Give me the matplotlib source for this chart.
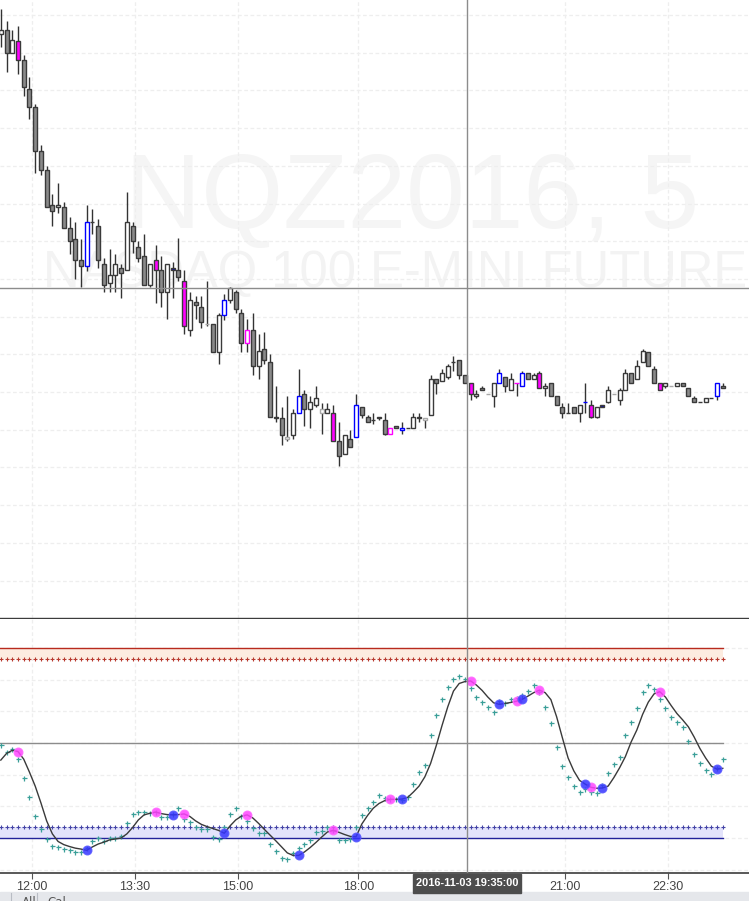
import matplotlib
matplotlib.use("Agg")
import matplotlib.pyplot as plt
import numpy as np
from matplotlib.patches import Rectangle

# ---------------- data ----------------
opens = [4757.5, 4758.0, 4755.0, 4756.5, 4754.0, 4750.25, 4747.75, 4742.0, 4739.5, 4734.75,
         4734.5, 4734.5, 4731.75, 4730.25, 4727.5, 4726.75, 4732.5, 4732.0, 4727.0, 4724.5,
         4725.5, 4726.5, 4726.25, 4732.0, 4729.25, 4728.0, 4724.25, 4727.5, 4726.25, 4723.25,
         4726.5, 4726.25, 4724.75, 4718.25, 4722.0, 4721.25, 4719.0, 4719.0, 4715.25, 4720.25,
         4722.25, 4723.25, 4720.5, 4716.5, 4718.25, 4713.5, 4715.75, 4714.0, 4706.75, 4706.5,
         4703.75, 4704.25, 4707.25, 4709.75, 4707.75, 4708.25, 4707.25, 4707.25, 4707.25, 4703.5,
         4701.75, 4703.75, 4704.0, 4708.0, 4706.75, 4706.25, 4706.5, 4706.25, 4704.5, 4705.5,
         4705.0, 4705.25, 4705.25, 4706.5, 4706.25, 4707.0, 4711.75, 4711.5, 4712.0, 4714.0,
         4714.25, 4712.25, 4711.25, 4709.5, 4710.5, 4709.75, 4709.5, 4711.25, 4712.0, 4710.25,
         4711.25, 4710.75, 4712.5, 4711.75, 4712.5, 4710.5, 4711.25, 4709.5, 4708.0, 4707.25,
         4708.0, 4707.25, 4708.75, 4708.25, 4706.75, 4708.25, 4708.75, 4709.75, 4709.0, 4710.25,
         4712.5, 4711.75, 4714.0, 4715.25, 4713.0, 4711.25, 4710.75, 4710.75, 4710.75, 4711.25,
         4710.5, 4709.25, 4708.75, 4708.75, 4709.25, 4709.5, 4710.75]
highs = [4760.75, 4759.25, 4758.0, 4758.5, 4754.75, 4751.75, 4748.25, 4742.75, 4740.0, 4736.25,
         4737.75, 4735.25, 4733.25, 4732.5, 4730.25, 4734.75, 4734.25, 4733.0, 4727.75, 4729.0,
         4728.25, 4727.0, 4736.5, 4732.5, 4730.0, 4731.0, 4727.0, 4729.5, 4728.0, 4727.0,
         4727.25, 4730.5, 4726.25, 4723.25, 4722.75, 4722.75, 4724.75, 4719.0, 4720.5, 4723.0,
         4724.0, 4723.5, 4721.0, 4719.75, 4720.5, 4717.75, 4718.0, 4715.0, 4710.75, 4708.0,
         4709.5, 4707.75, 4713.0, 4710.25, 4709.5, 4710.75, 4708.5, 4708.5, 4708.25, 4706.0,
         4704.25, 4705.0, 4709.75, 4708.0, 4707.0, 4707.25, 4706.75, 4707.25, 4705.25, 4705.5,
         4706.0, 4705.25, 4707.25, 4707.25, 4706.5, 4712.25, 4711.75, 4713.0, 4713.75, 4714.75,
         4714.25, 4712.25, 4711.25, 4710.25, 4710.75, 4709.75, 4711.25, 4713.0, 4712.0, 4712.5,
         4711.25, 4712.75, 4712.5, 4712.5, 4712.75, 4711.25, 4711.25, 4709.5, 4708.5, 4708.5,
         4708.0, 4708.25, 4711.25, 4709.0, 4708.0, 4708.25, 4710.75, 4709.75, 4710.5, 4713.0,
         4712.5, 4714.25, 4715.75, 4715.25, 4713.5, 4711.25, 4711.25, 4710.75, 4711.25, 4711.25,
         4710.5, 4709.5, 4708.75, 4709.25, 4709.25, 4711.25, 4711.25]
lows = [4755.75, 4752.5, 4755.0, 4752.25, 4749.25, 4746.25, 4739.0, 4738.75, 4734.5, 4732.0,
        4733.75, 4731.75, 4728.25, 4725.0, 4724.0, 4726.0, 4731.0, 4726.5, 4723.25, 4723.25,
        4723.25, 4722.5, 4726.25, 4728.5, 4727.25, 4724.25, 4724.0, 4721.75, 4721.25, 4719.75,
        4722.5, 4724.75, 4717.75, 4717.5, 4719.75, 4718.5, 4718.75, 4715.25, 4713.75, 4719.5,
        4721.75, 4720.5, 4715.25, 4715.25, 4712.25, 4711.75, 4713.75, 4706.75, 4706.0, 4703.0,
        4703.5, 4703.75, 4707.25, 4705.5, 4705.25, 4708.0, 4704.5, 4707.25, 4703.5, 4700.25,
        4701.75, 4702.75, 4704.0, 4706.5, 4706.0, 4705.75, 4706.25, 4704.25, 4704.5, 4705.25,
        4704.5, 4705.25, 4705.25, 4706.0, 4705.25, 4707.0, 4709.75, 4711.5, 4711.75, 4712.75,
        4711.75, 4711.25, 4709.0, 4709.25, 4710.25, 4709.75, 4708.0, 4711.25, 4710.0, 4710.25,
        4709.5, 4710.75, 4711.75, 4711.75, 4710.5, 4709.5, 4709.5, 4708.25, 4706.5, 4707.25,
        4707.25, 4706.0, 4707.25, 4706.5, 4706.5, 4708.0, 4708.5, 4709.75, 4708.25, 4710.25,
        4711.25, 4711.75, 4714.0, 4713.5, 4711.25, 4710.25, 4710.5, 4710.75, 4710.75, 4710.75,
        4709.5, 4708.75, 4708.75, 4708.75, 4709.25, 4709.0, 4710.5]
closes = [4758.0, 4755.0, 4756.75, 4754.0, 4750.5, 4747.75, 4742.0, 4739.5, 4734.5, 4734.0,
          4734.75, 4731.75, 4730.0, 4727.5, 4726.75, 4732.5, 4732.5, 4727.5, 4724.25, 4725.5,
          4727.0, 4725.75, 4732.5, 4730.0, 4727.75, 4724.25, 4727.0, 4726.25, 4723.25, 4727.0,
          4726.25, 4725.25, 4718.75, 4722.25, 4721.5, 4719.25, 4719.0, 4715.25, 4720.25, 4722.25,
          4723.75, 4721.0, 4716.5, 4718.25, 4713.5, 4715.5, 4714.25, 4706.75, 4706.5, 4704.25,
          4704.0, 4707.25, 4709.5, 4707.75, 4708.75, 4709.25, 4707.75, 4707.75, 4703.5, 4701.5,
          4704.25, 4702.75, 4708.25, 4707.0, 4706.0, 4706.25, 4706.75, 4704.5, 4705.25, 4705.25,
          4705.25, 4705.25, 4706.75, 4706.75, 4706.5, 4711.75, 4711.25, 4712.5, 4713.5, 4714.0,
          4712.25, 4711.25, 4709.75, 4709.75, 4710.25, 4709.75, 4711.25, 4712.5, 4710.75, 4711.75,
          4711.25, 4712.5, 4711.75, 4712.25, 4710.5, 4710.75, 4709.5, 4708.25, 4707.25, 4707.25,
          4707.25, 4708.25, 4708.75, 4706.75, 4708.0, 4708.0, 4710.25, 4709.75, 4710.25, 4712.5,
          4711.25, 4713.5, 4715.5, 4713.5, 4711.25, 4710.25, 4711.25, 4710.75, 4711.25, 4710.75,
          4709.5, 4708.75, 4708.75, 4709.25, 4709.25, 4711.25, 4710.5]

# signal bars (bar indices)
sell_bars = [3, 27, 32, 43, 58, 68, 82, 90, 94, 103, 115]
buy_bars = [15, 30, 39, 52, 62, 70, 87, 91, 102, 105, 125]
flat_bars = [36, 50, 56, 74, 85, 107, 117]

# oscillator (black line) and trigger (teal crosses)
oscillator = [44.6, 46.7, 47.7, 47.3, 44.9, 40.8, 36.4, 31.1, 25.4, 21.3,
              18.9, 17.9, 17.3, 16.8, 16.5, 16.1, 17.2, 18.1, 18.7, 19.4,
              19.7, 20.0, 21.3, 23.3, 25.7, 27.3, 27.8, 28.2, 27.7, 27.4,
              27.3, 27.4, 27.6, 26.8, 25.4, 24.3, 23.6, 23.0, 22.4, 21.5,
              23.8, 25.7, 26.9, 27.3, 26.3, 24.6, 22.7, 20.9, 19.1, 17.2,
              15.3, 14.5, 14.5, 15.6, 17.0, 18.6, 20.3, 21.9, 22.4, 21.8,
              21.1, 20.5, 20.4, 24.4, 27.1, 29.4, 30.9, 31.8, 32.2, 32.2,
              32.3, 32.8, 34.5, 36.4, 39.3, 43.5, 49.2, 55.5, 61.4, 66.4,
              68.8, 69.4, 69.6, 68.3, 66.6, 64.5, 62.7, 62.2, 62.5, 62.8,
              63.2, 63.8, 64.8, 65.9, 66.7, 65.9, 63.7, 58.3, 51.7, 45.3,
              41.2, 38.2, 37.0, 36.0, 35.7, 35.8, 36.4, 39.1, 42.2, 45.7,
              50.3, 54.1, 59.0, 62.9, 65.5, 66.2, 64.5, 61.8, 59.3, 57.3,
              55.1, 51.9, 48.3, 45.3, 42.7, 41.7, 42.0]
trigger = [49.4, 47.3, 48.1, 44.9, 38.9, 32.9, 26.9, 22.7, 19.6, 17.5,
           17.1, 16.5, 16.2, 15.5, 15.5, 16.7, 19.1, 19.9, 19.1, 19.9,
           20.1, 20.6, 24.6, 27.5, 28.1, 28.1, 28.0, 28.1, 26.5, 26.5,
           27.6, 29.6, 25.9, 24.9, 23.6, 22.8, 22.7, 20.2, 19.8, 23.5,
           27.5, 29.4, 26.9, 25.3, 23.2, 21.5, 21.5, 18.0, 15.9, 13.8,
           13.5, 15.3, 16.7, 18.0, 19.4, 21.9, 22.2, 23.4, 22.5, 19.4,
           19.4, 19.7, 23.6, 27.3, 29.4, 31.3, 33.6, 32.6, 32.3, 32.2,
           32.0, 33.0, 36.9, 40.7, 43.0, 52.5, 58.8, 63.8, 67.6, 70.1,
           71.2, 70.1, 67.3, 64.4, 63.0, 61.5, 59.9, 63.4, 62.7, 63.8,
           64.2, 65.2, 66.5, 68.3, 66.0, 61.3, 56.2, 48.8, 42.8, 39.2,
           36.5, 34.6, 35.5, 34.5, 34.1, 36.7, 40.4, 43.3, 45.7, 52.4,
           56.7, 61.1, 66.2, 68.2, 67.0, 63.8, 61.0, 58.1, 56.5, 55.0,
           50.7, 46.4, 43.6, 41.5, 40.1, 42.1, 44.9]

overbought = 80.0
overbought_inner = 76.5
midline = 50.0
oversold_inner = 23.5
oversold = 20.0

tick_bars = [5, 23, 41, 62, 98, 116]
tick_labels = ["12:00", "13:30", "15:00", "18:00", "21:00", "22:30"]
crosshair_bar = 81
crosshair_label = "2016-11-03 19:35:00"
crosshair_price = 4723.75

symbol_title = "NQZ2016, 5"
symbol_desc = "NASDAQ 100 E-MINI FUTURES"

# ---------------- styling ----------------
W, H = 749, 901
TICK_SHIFT = 0.4
GRAY_FILL = "#8a8a8a"
EDGE = "#3a3a3a"
MAGENTA = "#ff00ff"
BLUE = "#0000ff"
NAVY = "#1010b0"
LIGHT = "#a8a8a8"
GRID = "#eeeeee"
SANS = ["Liberation Sans", "DejaVu Sans"]

fig = plt.figure(figsize=(W / 100, H / 100), dpi=100)
fig.patch.set_facecolor("white")
ax = fig.add_axes([0, 1 - 618 / H, 1, 618 / H])
ax2 = fig.add_axes([0, 1 - 873 / H, 1, (873 - 619) / H], sharex=ax)

n = len(opens)
x = np.arange(n)
o = np.array(opens); c = np.array(closes)
hi = np.array(highs); lo = np.array(lows)

fills, edges = [], []
for i in range(n):
    if i in sell_bars:
        f, e = (MAGENTA, EDGE) if c[i] < o[i] else ("white", MAGENTA)
    elif i in buy_bars:
        f, e = (NAVY, EDGE) if c[i] < o[i] else ("white", BLUE)
    elif i in flat_bars:
        f, e = "white", LIGHT
    else:
        f, e = (GRAY_FILL, EDGE) if c[i] < o[i] else ("white", EDGE)
    fills.append(f); edges.append(e)

ax.vlines(x, lo, hi, color="#333333", lw=1.0, zorder=3)
ax.bar(x, np.abs(c - o), bottom=np.minimum(o, c), width=0.7, color=fills,
       edgecolor=edges, linewidth=1.0, zorder=4)

x_left = -0.14
x_right = (W - 0.8) / 5.73
ax.set_xlim(x_left, x_right)
ax.set_ylim(4762.0 - 618 / 7.54, 4762.0)

# watermark
ax.text(412 / W, 1 - 228 / 618, symbol_title, transform=ax.transAxes, ha="center",
        va="baseline", fontsize=76, color="#f5f5f5", family=SANS, zorder=0)
ax.text(412 / W, 1 - 287 / 618, symbol_desc, transform=ax.transAxes, ha="center",
        va="baseline", fontsize=36.5, color="#f3f3f3", family=SANS, zorder=0)

ax.set_yticks(np.arange(4685, 4761, 5))
ax.grid(True, color=GRID, ls=(0, (3, 2)), lw=0.9, zorder=0)
ax.set_axisbelow(True)
for s in ["top", "left", "right"]:
    ax.spines[s].set_visible(False)
ax.spines["bottom"].set_color("#3c3c3c")
ax.spines["bottom"].set_linewidth(1.0)
ax.tick_params(left=False, bottom=False, labelleft=False, labelbottom=False)

cx = crosshair_bar + TICK_SHIFT
ax.axvline(cx, color="#8c8c8c", lw=1.0, zorder=6)
ax.axhline(crosshair_price, color="#8c8c8c", lw=1.0, zorder=6)

# ---------------- indicator ----------------
xs = np.array([x_left, n - 1 + 0.1])
ax2.fill_between(xs, overbought_inner, overbought, color="#fdece0", lw=0, zorder=1)
ax2.fill_between(xs, oversold, oversold_inner, color="#e3e3fb", lw=0, zorder=1)
ax2.plot(xs, [overbought] * 2, color="#b82a1e", lw=1.0, zorder=2)
ax2.plot(xs, [oversold] * 2, color="#22229a", lw=1.0, zorder=2)
ax2.plot(xs, [midline] * 2, color="#8c8c8c", lw=1.0, zorder=2)
ax2.plot(x, [overbought_inner] * n, ls="none", marker="+", ms=3.0, mew=0.8,
         color="#b83a2e", zorder=2)
ax2.plot(x, [oversold_inner] * n, ls="none", marker="+", ms=3.0, mew=0.8,
         color="#4444a6", zorder=2)

osc = np.array(oscillator)
ax2.plot(x, trigger, ls="none", marker="+", ms=3.6, mew=0.9, color="#3a9f98", zorder=3)
ax2.plot(x, osc, color="#3a3a3a", lw=1.0, zorder=4)
ax2.plot(sell_bars, osc[sell_bars], ls="none", marker="o", ms=6.2, color="#ff44ff",
         mec="#ff66ff", alpha=0.85, zorder=5)
ax2.plot(buy_bars, osc[buy_bars], ls="none", marker="o", ms=6.2, color="#3535ff",
         mec="#5555ff", alpha=0.85, zorder=5)

ax2.set_ylim(20 - 35 / 3.1667, 20 + 219 / 3.1667)
ax2.set_yticks(np.arange(10, 81, 10))
ax2.grid(True, color=GRID, ls=(0, (3, 2)), lw=0.9, zorder=0)
ax2.set_axisbelow(True)
for s in ["top", "left", "right"]:
    ax2.spines[s].set_visible(False)
ax2.spines["bottom"].set_color("#3c3c3c")
ax2.spines["bottom"].set_linewidth(1.2)
ax2.axvline(cx, color="#8c8c8c", lw=1.0, zorder=6)

ax2.set_xticks([b + TICK_SHIFT for b in tick_bars])
ax2.set_xticklabels(tick_labels, family=SANS)
ax2.tick_params(axis="x", length=4, color="#555555", labelsize=9.0,
                labelcolor="#444444", pad=1.5)
ax2.tick_params(axis="y", left=False, labelleft=False)
ax2.set_xlim(x_left, x_right)

# crosshair time label: dark box under the axis at the crosshair position
cx_px = ax2.transData.transform((cx, 0))[0]
box_w, box_h, box_top = 108, 19, 874
fig.patches.append(Rectangle(((cx_px - box_w / 2) / W, (H - box_top - box_h) / H),
                             box_w / W, box_h / H, transform=fig.transFigure,
                             color="#4d4d4d", zorder=9))
fig.text(cx_px / W, (H - box_top - box_h / 2) / H, crosshair_label, ha="center",
         va="center", fontsize=7.9, fontweight="bold", color="white", family=SANS,
         zorder=10)

# bottom toolbar strip (cropped at the image edge, as in the reference)
fig.patches.append(Rectangle((0, 0), 1, 9 / H, transform=fig.transFigure,
                             color="#e5e7eb", zorder=0))
for xp in [11, 37]:
    fig.lines.append(plt.Line2D([xp / W, xp / W], [0, 8 / H], transform=fig.transFigure,
                                color="#b8bcc4", lw=0.8))
fig.text(22 / W, -1 / H, "All", fontsize=8.5, color="#555555", va="center")
fig.text(47 / W, -1 / H, "Cal", fontsize=8.5, color="#555555", va="center")

fig.savefig("out.png", dpi=100)
